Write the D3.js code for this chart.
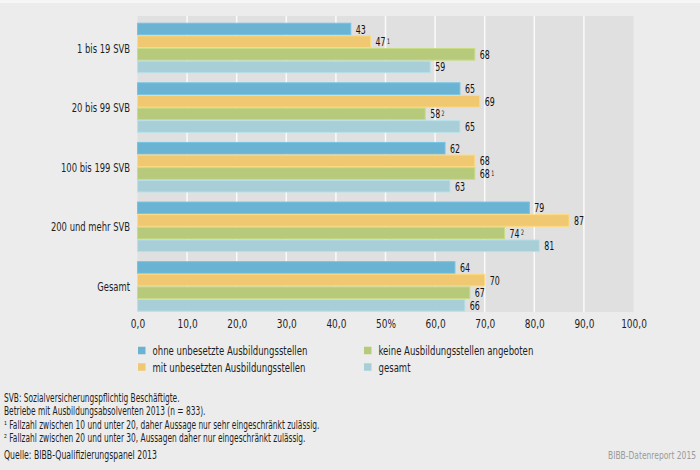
<!DOCTYPE html>
<html><head><meta charset="utf-8">
<script src="https://cdn.jsdelivr.net/npm/d3@7"></script>
<style>
html,body{margin:0;padding:0;background:#ececec;}
svg{display:block;}
text{font-family:"DejaVu Sans Condensed","Liberation Sans Narrow","Open Sans",sans-serif;}
</style></head><body>
<script>
const categories = ["1 bis 19 SVB","20 bis 99 SVB","100 bis 199 SVB","200 und mehr SVB","Gesamt"];
const seriesNames = ["ohne unbesetzte Ausbildungsstellen","mit unbesetzten Ausbildungsstellen","keine Ausbildungsstellen angeboten","gesamt"];
const ohne   = [43,65,62,79,64];
const mit    = [47,69,68,87,70];
const keine  = [68,58,68,74,67];
const gesamt = [59,65,63,81,66];
// footnote marks per series/category
const ohneNote   = ["","","","",""];
const mitNote    = ["1","","","",""];
const keineNote  = ["","2","1","2",""];
const gesamtNote = ["","","","",""];
const xTicks = [0,10,20,30,40,50,60,70,80,90,100];
const xTickLabels = ["0,0","10,0","20,0","30,0","40,0","50%","60,0","70,0","80,0","90,0","100,0"];
const colors = ["#6ab3d2","#efc871","#b7c97a","#a8ced7"];
const notes = ["SVB: Sozialversicherungspflichtig Beschäftigte.","Betriebe mit Ausbildungsabsolventen 2013 (n = 833).","¹ Fallzahl zwischen 10 und unter 20, daher Aussage nur sehr eingeschränkt zulässig.","² Fallzahl zwischen 20 und unter 30, Aussagen daher nur eingeschränkt zulässig."];
const source = "Quelle: BIBB-Qualifizierungspanel 2013";
const credit = "BIBB-Datenreport 2015";

const seriesVals = [ohne,mit,keine,gesamt];
const seriesNotes = [ohneNote,mitNote,keineNote,gesamtNote];

// place a text squeezed horizontally by factor r via transform
function label(parent, x, y, str, size, r, anchor, color){
  return parent.append("text")
    .attr("transform",`translate(${x},${y}) scale(${r},1)`)
    .attr("dy","0.36em").attr("font-size",size)
    .attr("text-anchor",anchor||"start").attr("fill",color||"#1e1e1e").text(str);
}

const W=700,H=470;
const svg = d3.select("body").append("svg").attr("width",W).attr("height",H);
svg.append("rect").attr("width",W).attr("height",H).attr("fill","#ececec");
svg.append("rect").attr("width",W).attr("height",3).attr("fill","#f6f6f6");

const plotL=137.5, plotR=633.5, plotT=16, plotB=312;
const x = d3.scaleLinear().domain([0,100]).range([plotL,plotR]);
const y0 = d3.scaleBand().domain(categories).range([22.7,311.7]).paddingInner(0.152).paddingOuter(0);
const y1 = d3.scaleBand().domain(d3.range(4)).range([0,y0.bandwidth()]);

svg.append("rect").attr("x",plotL).attr("y",plotT).attr("width",plotR-plotL).attr("height",plotB-plotT).attr("fill","#e0e0e0");
svg.append("g").selectAll("line").data(xTicks.filter(t=>t>0&&t<100)).join("line")
  .attr("x1",d=>x(d)).attr("x2",d=>x(d)).attr("y1",plotT).attr("y2",plotB)
  .attr("stroke","#fafafa").attr("stroke-width",1.5);

const VR=0.7;
const groups = svg.append("g").selectAll("g").data(categories).join("g")
  .attr("transform",d=>`translate(0,${y0(d)})`);
groups.each(function(cat,ci){
  const g=d3.select(this);
  for(let s=0;s<4;s++){
    const v=seriesVals[s][ci];
    g.append("rect").attr("x",x(0)).attr("y",y1(s)+0.5).attr("width",x(v)-x(0)).attr("height",y1.bandwidth()-1)
      .attr("fill",colors[s]).attr("stroke",d3.color(colors[s]).brighter(0.25)).attr("stroke-width",1);
    const t = label(g, x(v)+5, y1(s)+y1.bandwidth()/2, v, 12.5, VR, "start", "#111");
    const n=seriesNotes[s][ci];
    if(n){
      t.append("tspan").attr("font-size",7.5).attr("dx",2).attr("dy","-0.3em").text(n);
    }
  }
});

// category labels
const cl = svg.append("g");
categories.forEach(c=>label(cl,130,y0(c)+y0.bandwidth()/2,c,13,0.72,"end"));

// x axis
const xAxis = d3.axisBottom(x).tickValues(xTicks).tickSize(0).tickPadding(0).tickFormat((d,i)=>xTickLabels[i]);
const ax = svg.append("g").attr("transform",`translate(0,${plotB})`).call(xAxis);
ax.select(".domain").remove();
ax.selectAll("text").attr("y",0).attr("dy","0.36em").attr("font-size",12.5).attr("fill","#1e1e1e")
  .attr("transform","translate(0,11.5) scale(0.8,1)")
  .style("font-family",'"DejaVu Sans Condensed","Liberation Sans Narrow",sans-serif');

// legend
const legPos=[[138,350.5],[138,367],[364,350.5],[364,367]];
const leg = svg.append("g").selectAll("g").data(seriesNames).join("g")
  .attr("transform",(d,i)=>`translate(${legPos[i][0]},${legPos[i][1]})`);
leg.append("rect").attr("x",0).attr("y",-3.75).attr("width",7.5).attr("height",7.5).attr("fill",(d,i)=>colors[i]);
leg.each(function(d){ label(d3.select(this),14.5,0,d,12.5,0.76); });

// notes
const ng = svg.append("g");
notes.forEach((n,i)=>label(ng,4,397.5+i*13.6,n,11.5,0.72));
label(ng,4,455,source,11.5,0.75);
label(ng,696,455,credit,10.5,0.8,"end","#9a9a9a");
</script>
</body></html>
